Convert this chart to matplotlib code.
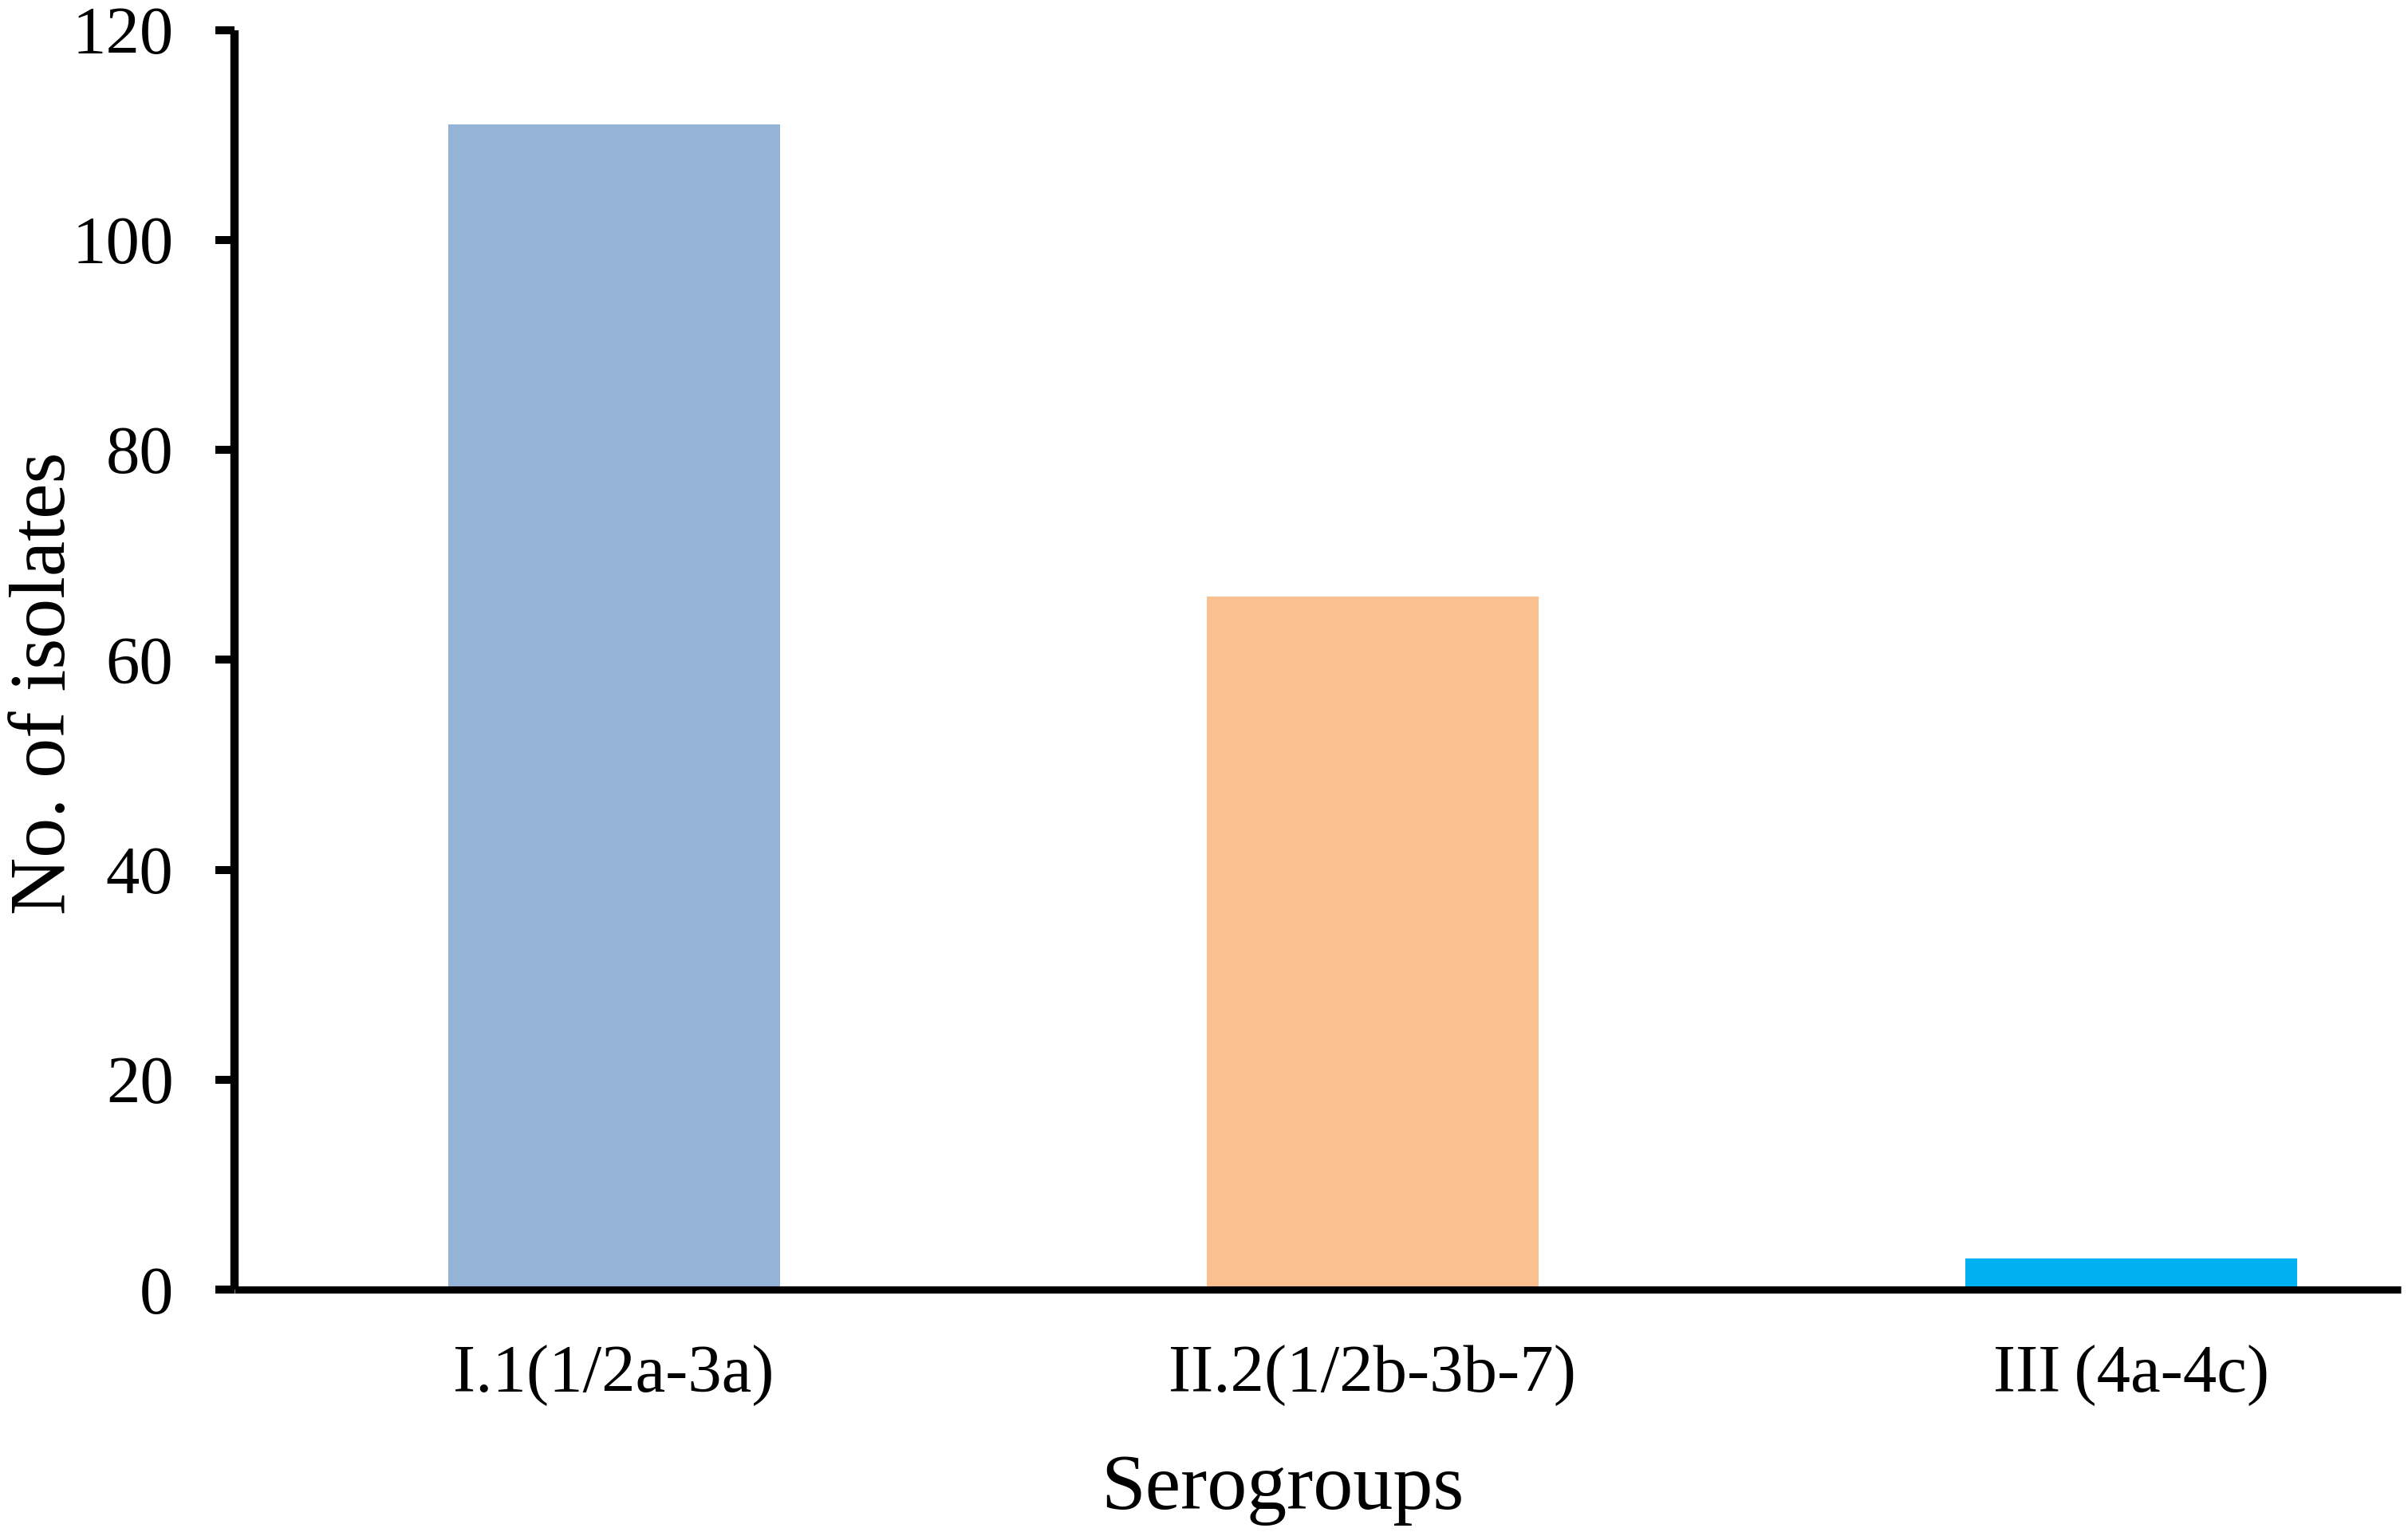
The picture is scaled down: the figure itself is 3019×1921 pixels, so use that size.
import matplotlib
matplotlib.use("Agg")
import matplotlib.pyplot as plt

categories = ["I.1(1/2a-3a)", "II.2(1/2b-3b-7)", "III\u2009(4a-4c)"]
values = [111, 66, 3]
colors = ["#95B3D7", "#FAC090", "#00B0F0"]
yticks = [0, 20, 40, 60, 80, 100, 120]

plt.rcParams['font.family'] = ['Liberation Serif', 'DejaVu Serif']

W, H = 3019, 1921
fig = plt.figure(figsize=(W / 100, H / 100), dpi=100)
ax = fig.add_axes([294 / W, (H - 1617) / H, (3010 - 294) / W, (1617 - 37.5) / H])

x = list(range(len(categories)))
ax.bar(x, values, width=0.437, color=colors, zorder=2)

ax.set_xlim(-0.5, 2.355)
ax.set_ylim(0, 120)
ax.set_yticks(yticks)
ax.set_xticks(x)
ax.set_xticklabels(categories)

for s in ["top", "right"]:
    ax.spines[s].set_visible(False)
ax.spines["left"].set_linewidth(7.5)
ax.spines["bottom"].set_linewidth(6.5)
ax.spines["left"].set_capstyle("butt")
ax.spines["bottom"].set_capstyle("butt")

ax.tick_params(axis="y", direction="out", length=17, width=7.2, pad=38, labelsize=61)
ax.tick_params(axis="x", length=0, pad=50, labelsize=61)

fig.text(1608 / W, (H - 1892) / H, "Serogroups", ha="center", va="baseline", fontsize=72)
fig.text(81 / W, (H - 857) / H, "No. of isolates", rotation=90, rotation_mode="anchor",
         ha="center", va="baseline", fontsize=72)

fig.savefig("out.png", dpi=100)
